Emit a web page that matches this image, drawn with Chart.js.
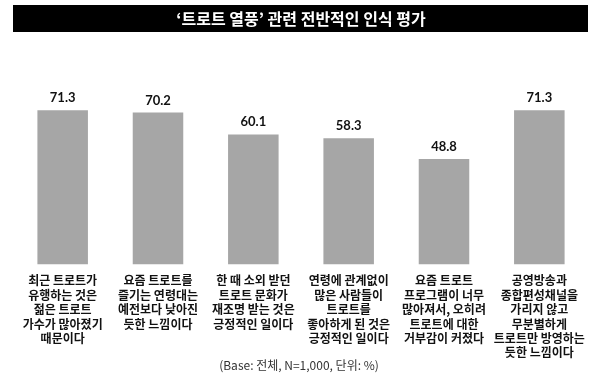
<!DOCTYPE html>
<html>
<head>
<meta charset="utf-8">
<script src="https://cdn.jsdelivr.net/npm/chart.js@4"></script>
<style>
  html, body { margin: 0; padding: 0; background: #fff; }
  #wrap { width: 600px; height: 384px; position: relative; }
</style>
</head>
<body>
<div id="wrap"><canvas id="trotChart" width="600" height="384"></canvas></div>
<script>
const titleText = '‘트로트 열풍’ 관련 전반적인 인식 평가';
const noteText = '(Base: 전체, N=1,000, 단위: %)';
const categories = [
    ['최근 트로트가', '유행하는 것은', '젊은 트로트', '가수가 많아졌기', '때문이다'],
    ['요즘 트로트를', '즐기는 연령대는', '예전보다 낮아진', '듯한 느낌이다'],
    ['한 때 소외 받던', '트로트 문화가', '재조명 받는 것은', '긍정적인 일이다'],
    ['연령에 관계없이', '많은 사람들이', '트로트를', '좋아하게 된 것은', '긍정적인 일이다'],
    ['요즘 트로트', '프로그램이 너무', '많아져서, 오히려', '트로트에 대한', '거부감이 커졌다'],
    ['공영방송과', '종합편성채널을', '가리지 않고', '무분별하게', '트로트만 방영하는', '듯한 느낌이다']
];
const values = [71.3, 70.2, 60.1, 58.3, 48.8, 71.3];

const KR = '"Noto Sans CJK KR", "Noto Sans", sans-serif';

// black title band + footnote
const frame = {
    id: 'frame',
    beforeDraw(chart) {
        const ctx = chart.ctx;
        ctx.save();
        ctx.fillStyle = '#000';
        ctx.fillRect(13, 5, 575, 27);
        ctx.fillStyle = '#fff';
        ctx.font = 'bold 16px ' + KR;
        ctx.textAlign = 'center';
        ctx.textBaseline = 'middle';
        ctx.fillText(titleText, 301, 18.5);
        ctx.fillStyle = '#333';
        ctx.font = '12px ' + KR;
        ctx.fillText(noteText, 299, 365);
        ctx.restore();
    },
    afterDatasetsDraw(chart) {
        const ctx = chart.ctx;
        ctx.save();
        ctx.font = 'bold 13px Lato, "Open Sans", sans-serif';
        ctx.fillStyle = '#111';
        ctx.textAlign = 'center';
        ctx.textBaseline = 'alphabetic';
        chart.getDatasetMeta(0).data.forEach((bar, i) => {
            ctx.fillText(values[i].toFixed(1), bar.x, bar.y - 8);
        });
        ctx.restore();
    }
};

new Chart(document.getElementById('trotChart'), {
    type: 'bar',
    data: {
        labels: categories,
        datasets: [{
            data: values,
            backgroundColor: '#a6a6a6',
            barPercentage: 0.53,
            categoryPercentage: 1
        }]
    },
    options: {
        responsive: false,
        animation: false,
        layout: { padding: { left: 15, right: 13, top: 48, bottom: 23 } },
        plugins: {
            legend: { display: false },
            tooltip: { enabled: false }
        },
        scales: {
            x: {
                grid: { display: false },
                border: { display: false },
                ticks: {
                    autoSkip: false,
                    maxRotation: 0,
                    padding: 1,
                    color: '#111',
                    font: { family: KR, size: 12, weight: 'bold', lineHeight: 1.2 }
                }
            },
            y: {
                display: false,
                min: 0,
                max: 100
            }
        }
    },
    plugins: [frame]
});
</script>
</body>
</html>
